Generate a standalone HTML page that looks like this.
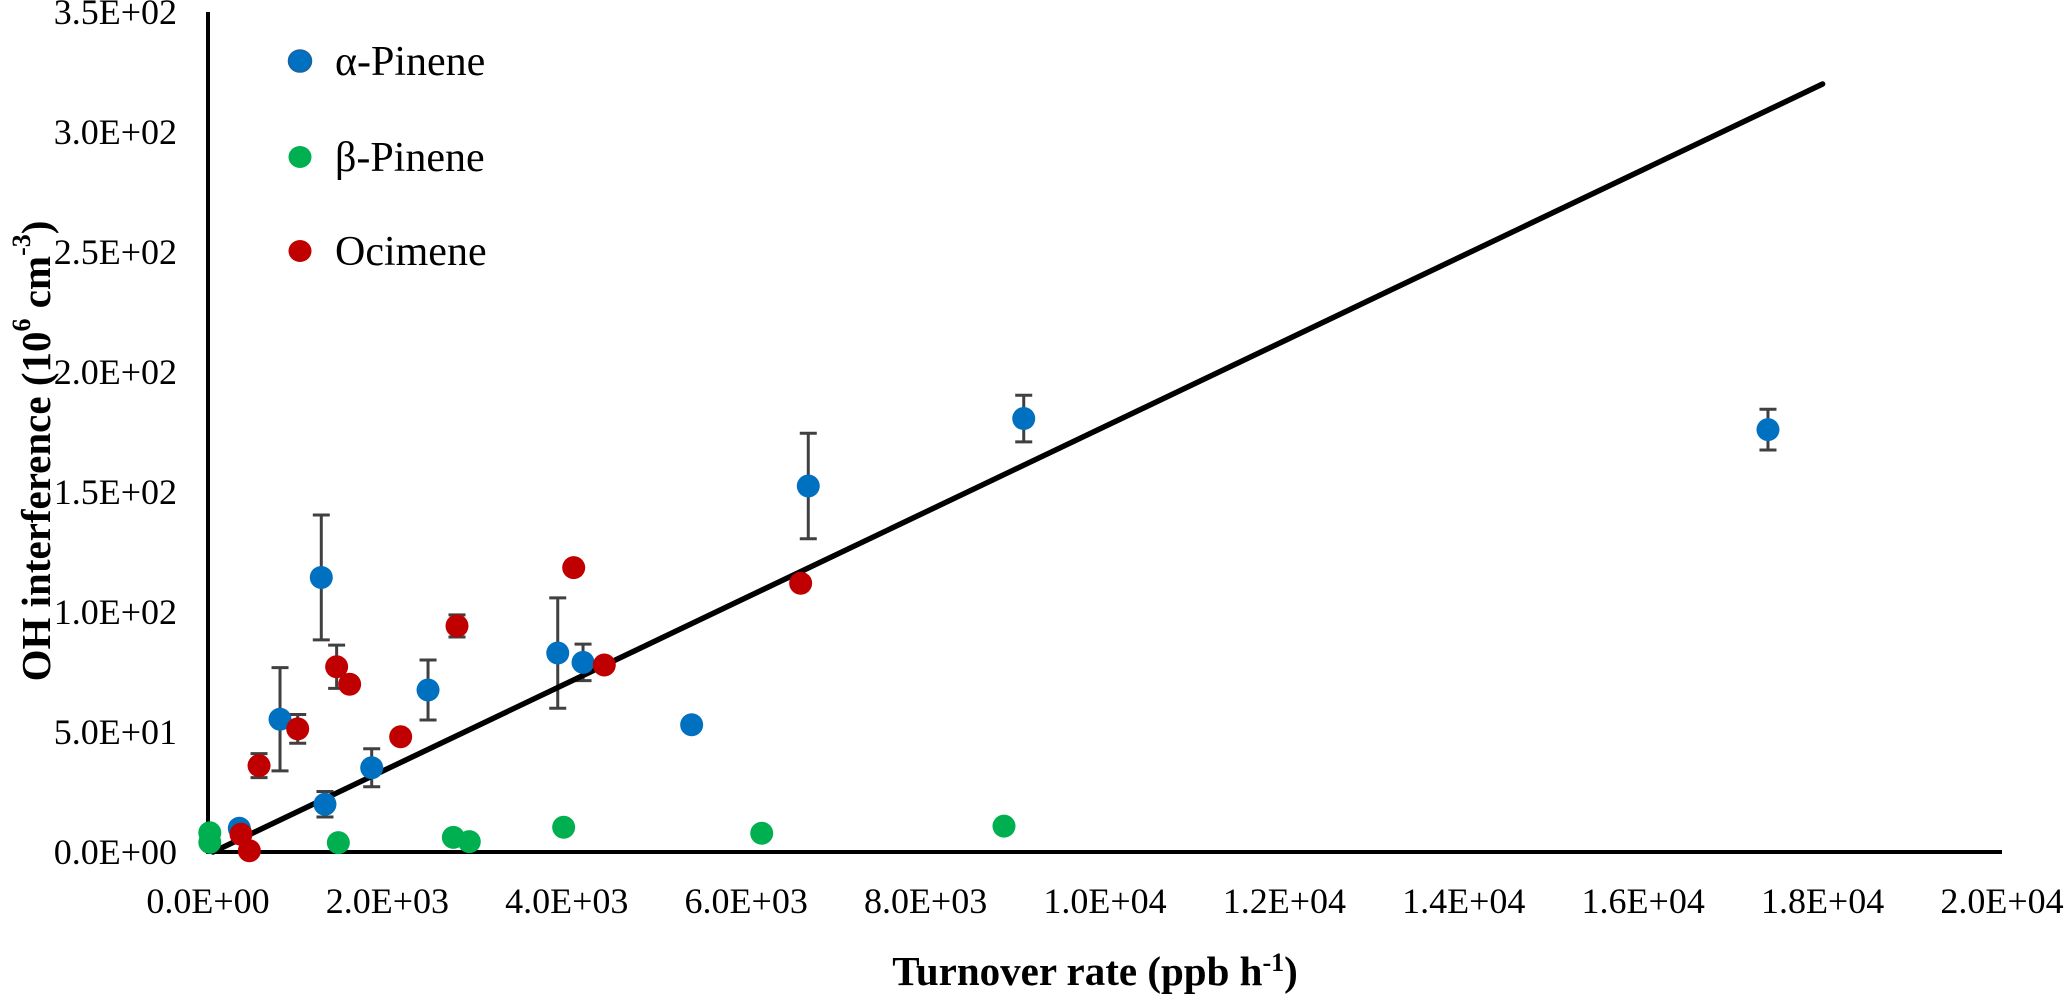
<!DOCTYPE html>
<html><head><meta charset="utf-8"><style>
html,body{margin:0;padding:0;background:#fff;}
svg{display:block;font-family:"Liberation Serif",serif;}
</style></head><body>
<svg id="chart" width="2067" height="994" viewBox="0 0 2067 994" xmlns="http://www.w3.org/2000/svg">
<g id="axes"></g>
<g id="marks"></g>
<text transform="translate(36,451) rotate(-90)" text-anchor="middle" dominant-baseline="central" font-size="41" font-weight="bold">OH interference (10<tspan baseline-shift="super" font-size="26">6</tspan> cm<tspan baseline-shift="super" font-size="26">-3</tspan>)</text>
<text x="1095" y="985" text-anchor="middle" font-size="41" font-weight="bold">Turnover rate (ppb h<tspan baseline-shift="super" font-size="26">-1</tspan>)</text>
<g>
<g><ellipse cx="300" cy="61" rx="11.5" ry="11" fill="#0070C0" stroke="#2060a0" stroke-width="1.5"/><text x="335" y="75" font-size="42">α-Pinene</text></g>
<g><ellipse cx="300" cy="157" rx="11.5" ry="11" fill="#00B050"/><text x="335" y="171" font-size="42">β-Pinene</text></g>
<g><ellipse cx="300" cy="251" rx="11.5" ry="11" fill="#C00000"/><text x="335" y="265" font-size="42">Ocimene</text></g>
</g>
</svg>
<script>
const xTicks = [0,2000,4000,6000,8000,10000,12000,14000,16000,18000,20000];
const xTickLabels = ["0.0E+00","2.0E+03","4.0E+03","6.0E+03","8.0E+03","1.0E+04","1.2E+04","1.4E+04","1.6E+04","1.8E+04","2.0E+04"];
const yTicks = [0,50,100,150,200,250,300,350];
const yTickLabels = ["0.0E+00","5.0E+01","1.0E+02","1.5E+02","2.0E+02","2.5E+02","3.0E+02","3.5E+02"];
const alphaX = [349,803,1263,1304,1825,2453,3899,4181,5392,6692,9094,17391];
const alphaY = [9.9,55.3,114.4,19.9,35.1,67.5,82.9,79,53,152.5,180.6,176];
const alphaErr = [0,21.5,26,5.3,7.9,12.5,23,7.6,0,22,9.7,8.5];
const betaX = [20,20,1453,2735,2913,3965,6173,8874];
const betaY = [8,4,3.9,6.1,4.3,10.3,7.8,10.8];
const ociX = [368,461,569,1000,1434,1579,2148,2776,4077,4418,6607];
const ociY = [7.4,0.5,36,51.3,77.2,69.9,48,94.2,118.5,77.9,112];
const ociErr = [0,0,5,6,9,0,0,4.6,0,0,0];
const fitX = [0,18000];
const fitY = [-1,320];

const NS="http://www.w3.org/2000/svg";
const X0=208, XPX=1794/20000, Y0=852, YPX=2.4;
const sx=v=>X0+v*XPX, sy=v=>Y0-v*YPX;
function mk(tag,attrs,parent){const e=document.createElementNS(NS,tag);for(const k in attrs)e.setAttribute(k,attrs[k]);parent.appendChild(e);return e;}
const axes=document.getElementById('axes'), marks=document.getElementById('marks');

const ya=mk('line',{x1:sx(0),y1:sy(350),x2:sx(0),y2:Y0+2,stroke:'#000','stroke-width':4},axes);


const xa=mk('line',{x1:sx(0)-2,y1:Y0,x2:sx(20000),y2:Y0,stroke:'#000','stroke-width':4},axes);


xTicks.forEach((t,i)=>{const e=mk('text',{x:sx(t),y:913,'text-anchor':'middle','font-size':36},axes);e.textContent=xTickLabels[i];

});
yTicks.forEach((t,i)=>{const e=mk('text',{x:177,y:sy(t)+12,'text-anchor':'end','font-size':36},axes);e.textContent=yTickLabels[i];

});

function errbar(x,y,e){if(!e)return;const g=mk('g',{stroke:'#404040','stroke-width':3},marks);


mk('line',{x1:sx(x),x2:sx(x),y1:sy(y+e),y2:sy(y-e)},g);
mk('line',{x1:sx(x)-8.5,x2:sx(x)+8.5,y1:sy(y+e),y2:sy(y+e)},g);
mk('line',{x1:sx(x)-8.5,x2:sx(x)+8.5,y1:sy(y-e),y2:sy(y-e)},g);}
alphaX.forEach((x,i)=>errbar(x,alphaY[i],alphaErr[i]));
ociX.forEach((x,i)=>errbar(x,ociY[i],ociErr[i]));

const fit=mk('line',{x1:sx(Math.max(fitX[0],(0-fitY[0])*(fitX[1]-fitX[0])/(fitY[1]-fitY[0]))),y1:sy(Math.max(0,fitY[0])),x2:sx(fitX[1]),y2:sy(fitY[1]),stroke:'#000','stroke-width':5.5,'stroke-linecap':'round'},marks);



betaX.forEach((x,i)=>{const c=mk('circle',{cx:sx(x),cy:sy(betaY[i]),r:11.5,fill:'#00B050'},marks);

});
alphaX.forEach((x,i)=>{const c=mk('circle',{cx:sx(x),cy:sy(alphaY[i]),r:11.5,fill:'#0070C0'},marks);

});
ociX.forEach((x,i)=>{const c=mk('circle',{cx:sx(x),cy:sy(ociY[i]),r:11.5,fill:'#C00000'},marks);

});
</script>
</body></html>
